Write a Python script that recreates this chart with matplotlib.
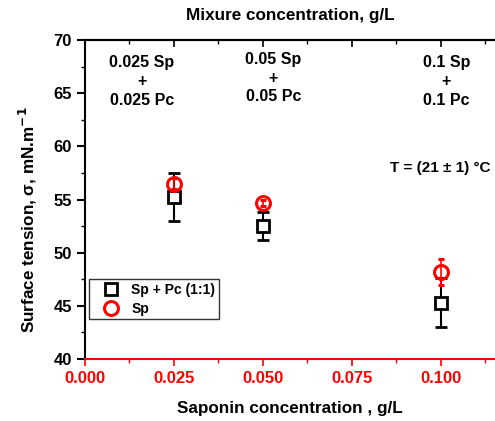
import numpy as np
import matplotlib
matplotlib.use("Agg")
import matplotlib.pyplot as plt
from matplotlib.ticker import MultipleLocator

plt.rcParams['font.family'] = ['Liberation Sans', 'DejaVu Sans']
plt.rcParams['font.weight'] = 'bold'

# saponin concentration, g/L
conc = [0.025, 0.05, 0.1]
# Sp + Pc (1:1) mixture
mix_sigma = [55.2, 52.5, 45.3]
mix_err = [2.25, 1.35, 2.3]
# saponin alone
sp_sigma = [56.5, 54.7, 48.2]
sp_err = [0.5, 0.3, 1.2]

mix_labels = ["0.025 Sp\n+\n0.025 Pc", "0.05 Sp\n+\n0.05 Pc", "0.1 Sp\n+\n0.1 Pc"]
mix_label_x = [0.016, 0.0529, 0.1015]
mix_label_y = [66.1, 66.4, 66.1]

fig = plt.figure(figsize=(4.95, 4.21), dpi=100)
ax = fig.add_axes([85 / 495, 62 / 421, 1 - 85 / 495, 319 / 421])

eb_mix = ax.errorbar(conc, mix_sigma, yerr=mix_err, fmt='s', color='black', mfc='white',
                     mec='black', ms=8, mew=2, elinewidth=1.5, capsize=4, capthick=1.5,
                     zorder=3)
eb_sp = ax.errorbar(conc, sp_sigma, yerr=sp_err, fmt='o', color='red', mfc='none',
                    mec='red', ms=10, mew=2.2, elinewidth=1.2, capsize=2.5, capthick=1.2,
                    zorder=4)

ax.set_xlim(0, 0.1152)
ax.set_ylim(40, 70)

# left axis
ax.yaxis.set_major_locator(MultipleLocator(5))
ax.yaxis.set_minor_locator(MultipleLocator(2.5))
ax.tick_params(axis='y', which='major', direction='out', length=6, width=1.5, labelsize=12)
ax.tick_params(axis='y', which='minor', direction='out', length=3, width=1)
ax.set_ylabel("Surface tension, σ, mN.m$^{\\mathbf{-1}}$", fontsize=12.3,
              fontweight='bold')
ax.yaxis.set_label_coords(-0.112, 0.436)

# bottom axis (saponin) in red
ax.xaxis.set_major_locator(MultipleLocator(0.025))
ax.xaxis.set_minor_locator(MultipleLocator(0.0125))
ax.xaxis.set_major_formatter(matplotlib.ticker.FormatStrFormatter('%.3f'))
ax.tick_params(axis='x', which='major', direction='out', length=5, width=1.2,
               colors='red', labelsize=12)
ax.tick_params(axis='x', which='minor', direction='out', length=3, width=1, colors='red')
ax.set_xlabel("Saponin concentration , g/L", fontsize=12.3, fontweight='bold', labelpad=11)

for side in ['left', 'top']:
    ax.spines[side].set_linewidth(1.5)
ax.spines['bottom'].set_color('red')
ax.spines['bottom'].set_linewidth(1.5)
ax.spines['right'].set_visible(False)

# top axis (mixture) in black, no tick labels
ax_top = ax.twiny()
ax_top.set_xlim(ax.get_xlim())
ax_top.xaxis.set_major_locator(MultipleLocator(0.025))
ax_top.xaxis.set_minor_locator(MultipleLocator(0.0125))
ax_top.tick_params(axis='x', which='major', direction='in', length=5, width=1.2, labeltop=False)
ax_top.tick_params(axis='x', which='minor', direction='in', length=3, width=1)
ax_top.set_xlabel("Mixure concentration, g/L", fontsize=12.3, fontweight='bold', labelpad=11)
for side in ['right', 'bottom', 'left']:
    ax_top.spines[side].set_visible(False)
ax_top.spines['top'].set_linewidth(1.5)

for x, y, s in zip(mix_label_x, mix_label_y, mix_labels):
    ax.text(x, y, s, ha='center', va='center', fontsize=11.5, fontweight='bold',
            linespacing=1.3)

ax.text(0.0998, 58.0, "T = (21 ± 1) °C", ha='center', va='center', fontsize=11,
        fontweight='bold')

# legend shows markers only, without the error bars
leg = ax.legend([eb_mix[0], eb_sp[0]], ['Sp + Pc (1:1)', 'Sp'],
                loc='lower left', bbox_to_anchor=(0.01, 0.125), borderaxespad=0,
                fontsize=10, frameon=True, fancybox=False, edgecolor='black',
                handletextpad=0.1, borderpad=0.25, labelspacing=0.35, handlelength=2.7)
leg.get_frame().set_linewidth(1)

fig.savefig("out.png", dpi=100)
